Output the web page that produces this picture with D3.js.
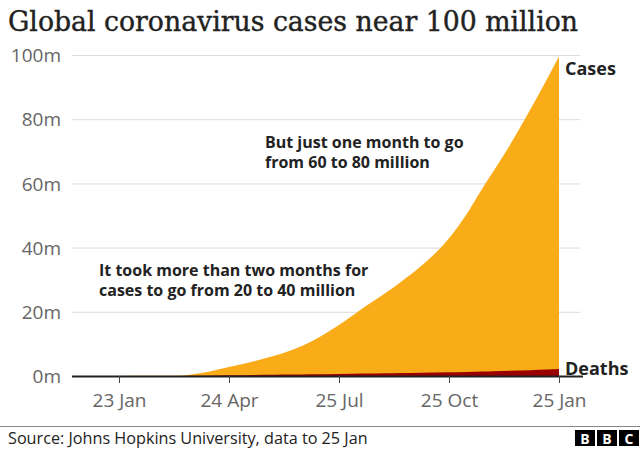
<!DOCTYPE html>
<html>
<head>
<meta charset="utf-8">
<script src="https://cdn.jsdelivr.net/npm/d3@7"></script>
<style>
  html, body { margin: 0; padding: 0; background: #fff; }
  svg { display: block; }
</style>
</head>
<body>
<svg id="chart" width="640" height="450"></svg>
<script>
// ---- data ----
const dates = ["2020-01-22","2020-02-15","2020-03-01","2020-03-15","2020-04-01","2020-04-24","2020-05-15","2020-06-01","2020-06-15","2020-07-01","2020-07-25","2020-08-15","2020-09-01","2020-09-15","2020-10-01","2020-10-25","2020-11-08","2020-11-22","2020-12-01","2020-12-15","2021-01-01","2021-01-15","2021-01-25"];
const cases = [0.001,0.07,0.09,0.17,0.93,2.8,4.6,6.3,8.0,10.6,15.9,21.4,25.6,29.4,34.0,42.9,50.0,58.5,63.7,72.0,83.0,92.5,99.5];
const deaths = [0.0,0.002,0.003,0.006,0.047,0.2,0.31,0.375,0.43,0.52,0.64,0.77,0.86,0.94,1.02,1.15,1.25,1.38,1.47,1.62,1.83,2.02,2.15];
const yTicks = [0,20,40,60,80,100];
const xTickDates = ["2020-01-23","2020-04-24","2020-07-25","2020-10-25","2021-01-25"];
const xTickLabels = ["23 Jan","24 Apr","25 Jul","25 Oct","25 Jan"];
const title = "Global coronavirus cases near 100 million";
const source = "Source: Johns Hopkins University, data to 25 Jan";

const parse = d3.utcParse("%Y-%m-%d");
const data = dates.map((d,i)=>({date:parse(d), cases:cases[i], deaths:deaths[i]}));

const svg = d3.select("#chart");
const sans = "'Open Sans', 'Noto Sans', sans-serif";

// scales
const x0 = parse("2020-01-23"), x1 = parse("2021-01-25");
const xPix0 = 119, xPix1 = 559;
const pxPerMs = (xPix1 - xPix0) / (x1 - x0);
const domStart = new Date(+x0 - (xPix0 - 72) / pxPerMs);
const domEnd = new Date(+x1 + (583 - xPix1) / pxPerMs);
const x = d3.scaleUtc().domain([domStart, domEnd]).range([72, 583]);
const y = d3.scaleLinear().domain([0,100]).range([376, 55]);

// title
svg.append("text").attr("x", 8).attr("y", 31)
  .attr("font-family", "'DejaVu Serif', serif").attr("font-size", 27)
  .attr("fill", "#222").attr("stroke", "#222").attr("stroke-width", 0.4)
  .attr("textLength", 570).attr("lengthAdjust", "spacingAndGlyphs")
  .text(title);

// y grid + labels
const yAxis = d3.axisLeft(y).tickValues(yTicks).tickSize(0).tickFormat(d => d + "m");
const gy = svg.append("g").attr("transform", "translate(72,0)").call(yAxis);
gy.select(".domain").remove();
gy.selectAll(".tick text").attr("x", -11).attr("dy", "0.35em")
  .attr("font-family", sans).attr("font-size", 19).attr("fill", "#666");
gy.selectAll(".tick").append("line").attr("x1", 0).attr("x2", 508)
  .attr("stroke", "#dcdcdc").attr("stroke-width", 1)
  .filter(d => d === 0).remove();

// areas
const areaCases = d3.area().x(d => x(d.date)).y0(y(0)).y1(d => y(d.cases)).curve(d3.curveMonotoneX);
const areaDeaths = d3.area().x(d => x(d.date)).y0(y(0)).y1(d => y(d.deaths)).curve(d3.curveMonotoneX);
svg.append("path").datum(data).attr("d", areaCases).attr("fill", "#FAAB18");
svg.append("path").datum(data).attr("d", areaDeaths).attr("fill", "#990000");

// x axis
const xAxis = d3.axisBottom(x).tickValues(xTickDates.map(parse)).tickSize(7)
  .tickFormat((d,i) => xTickLabels[i]);
const gx = svg.append("g").attr("transform", `translate(0,${y(0)})`).call(xAxis);
gx.select(".domain").attr("d", `M72,0.5H583`).attr("stroke", "#222").attr("stroke-width", 2);
gx.selectAll(".tick line").attr("stroke", "#444").attr("stroke-width", 1);
gx.selectAll(".tick text").attr("y", 18).attr("dy", "0.71em")
  .attr("font-family", sans).attr("font-size", 19).attr("fill", "#666");

// series labels
svg.append("text").attr("x", 565).attr("y", 75)
  .attr("font-family", sans).attr("font-weight", "bold").attr("font-size", 18).attr("fill", "#222")
  .text("Cases");
svg.append("text").attr("x", 565).attr("y", 375)
  .attr("font-family", sans).attr("font-weight", "bold").attr("font-size", 18).attr("fill", "#222")
  .text("Deaths");

// annotations
function multi(xp, yp, lines) {
  const t = svg.append("text").attr("font-family", sans).attr("font-weight", "bold")
    .attr("font-size", 16).attr("fill", "#222");
  lines.forEach((l,i) => t.append("tspan").attr("x", xp).attr("y", yp + i*20).text(l));
}
multi(265, 148, ["But just one month to go", "from 60 to 80 million"]);
multi(99, 276, ["It took more than two months for", "cases to go from 20 to 40 million"]);

// footer
svg.append("line").attr("x1", 0).attr("x2", 640).attr("y1", 426.5).attr("y2", 426.5)
  .attr("stroke", "#888").attr("stroke-width", 1);
svg.append("text").attr("x", 8).attr("y", 444)
  .attr("font-family", sans).attr("font-size", 16.2).attr("fill", "#222").text(source);
const logo = svg.append("g").attr("transform", "translate(575,430)");
["B","B","C"].forEach((c,i) => {
  logo.append("rect").attr("x", i*22).attr("y", 0).attr("width", 20).attr("height", 16).attr("fill", "#000");
  logo.append("text").attr("x", i*22 + 10).attr("y", 13.5).attr("text-anchor", "middle")
    .attr("font-family", sans).attr("font-weight", "bold").attr("font-size", 14).attr("fill", "#fff").text(c);
});
</script>
</body>
</html>
